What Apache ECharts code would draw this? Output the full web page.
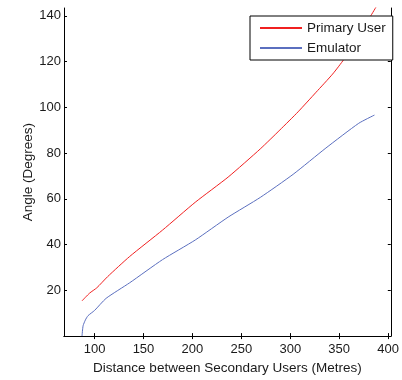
<!DOCTYPE html>
<html>
<head>
<meta charset="utf-8">
<script src="https://cdn.jsdelivr.net/npm/echarts@6/dist/echarts.min.js"></script>
<style>
  html, body { margin: 0; padding: 0; background: #fff; }
  #chart { width: 402px; height: 380px; }
</style>
</head>
<body>
<div id="chart"></div>
<script>
// distance (x) and angle (y)
const primaryX = [87.2, 95.0, 102.3, 113.4, 135.9, 169.4, 202.9, 236.5, 269.3, 289.4, 307.9, 326.4, 343.2, 354.8, 382.4, 390.0]
const primaryY = [15.4, 18.8, 21.1, 26.0, 34.8, 46.3, 58.5, 69.5, 81.8, 90.1, 98.0, 106.6, 114.5, 121.0, 140.1, 145.5]
const emulatorX = [87.2, 88.3, 90.6, 93.3, 100.0, 111.8, 135.9, 169.4, 202.9, 236.5, 269.3, 302.9, 336.4, 369.9, 386.0]
const emulatorY = [0, 4.5, 7.0, 8.9, 11.2, 16.5, 23.3, 33.4, 42.0, 52.0, 60.6, 70.7, 82.2, 93.0, 96.6]
const xTicks = [100, 150, 200, 250, 300, 350, 400]
const yTicks = [20, 40, 60, 80, 100, 120, 140]

const font = 'Liberation Sans, Arial, sans-serif'
const zip = (xs, ys) => xs.map((x, i) => [x, ys[i]])

const chart = echarts.init(document.getElementById('chart'))

const boxAxis = {
  axisLine: { show: true, lineStyle: { color: '#000', width: 1 } },
  splitLine: { show: false }
}

chart.setOption({
  animation: false,
  grid: { left: 64, right: 6, top: 8, bottom: 39 },
  legend: {
    orient: 'vertical',
    left: 250,
    top: 16,
    padding: [5, 7, 5, 9],
    itemGap: 6,
    itemWidth: 42,
    itemHeight: 14,
    backgroundColor: '#fff',
    borderColor: '#000',
    borderWidth: 1,
    itemStyle: { opacity: 0 },
    textStyle: { fontFamily: font, fontSize: 13.5, color: '#1a1a1a' },
    data: ['Primary User', 'Emulator']
  },
  xAxis: [
    {
      ...boxAxis,
      type: 'value',
      min: 68.8,
      max: 402.7,
      name: 'Distance between Secondary Users (Metres)',
      nameLocation: 'middle',
      nameGap: 20,
      nameTextStyle: { fontFamily: font, fontSize: 13.5, color: '#1a1a1a' },
      axisTick: { show: true, inside: true, length: 3, customValues: xTicks, lineStyle: { color: '#000' } },
      axisLabel: { show: true, margin: 7, customValues: xTicks, fontFamily: font, fontSize: 13, color: '#1a1a1a' }
    },
    {
      ...boxAxis,
      type: 'value',
      position: 'top',
      min: 68.8,
      max: 402.7,
      axisTick: { show: true, inside: true, length: 3, customValues: xTicks, lineStyle: { color: '#000' } },
      axisLabel: { show: false }
    }
  ],
  yAxis: [
    {
      ...boxAxis,
      type: 'value',
      min: 0,
      max: 143.4,
      name: 'Angle (Degrees)',
      nameLocation: 'middle',
      nameGap: 29,
      nameMoveOverlap: false,
      nameTextStyle: { fontFamily: font, fontSize: 13.5, color: '#1a1a1a' },
      axisTick: { show: true, inside: true, length: 3, customValues: yTicks, lineStyle: { color: '#000' } },
      axisLabel: { show: true, margin: 3, customValues: yTicks, fontFamily: font, fontSize: 13, color: '#1a1a1a' }
    },
    {
      ...boxAxis,
      type: 'value',
      position: 'right',
      min: 0,
      max: 143.4,
      axisTick: { show: true, inside: true, length: 3, customValues: yTicks, lineStyle: { color: '#000' } },
      axisLabel: { show: false }
    }
  ],
  series: [
    {
      name: 'Primary User',
      type: 'line',
      data: zip(primaryX, primaryY),
      symbol: 'none',
      smooth: 0.2,
      clip: true,
      lineStyle: { color: '#f02020', width: 1 },
      itemStyle: { color: '#f02020' }
    },
    {
      name: 'Emulator',
      type: 'line',
      data: zip(emulatorX, emulatorY),
      symbol: 'none',
      smooth: 0.2,
      clip: true,
      lineStyle: { color: '#5b6fbf', width: 1 },
      itemStyle: { color: '#5b6fbf' }
    }
  ]
})
</script>
</body>
</html>
